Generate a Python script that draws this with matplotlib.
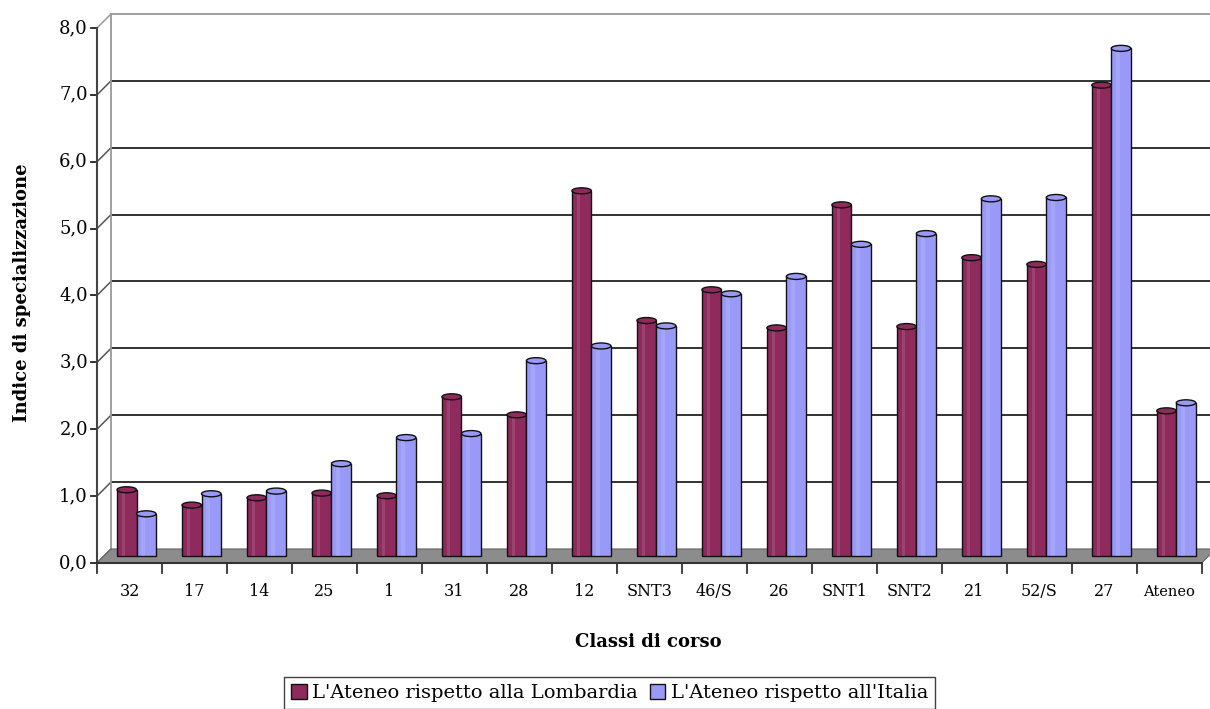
import matplotlib.pyplot as plt
from matplotlib.patches import Ellipse, Polygon

# ── data ────────────────────────────────────────────────────────────────
classi = ["32", "17", "14", "25", "1", "31", "28", "12", "SNT3", "46/S",
          "26", "SNT1", "SNT2", "21", "52/S", "27", "Ateneo"]
lombardia = [0.99, 0.76, 0.87, 0.94, 0.90, 2.38, 2.11, 5.46, 3.52, 3.98,
             3.41, 5.25, 3.43, 4.46, 4.36, 7.04, 2.17]
italia = [0.63, 0.93, 0.97, 1.38, 1.77, 1.83, 2.92, 3.14, 3.44, 3.92,
          4.18, 4.66, 4.82, 5.34, 5.36, 7.59, 2.29]
yticks = [0, 1, 2, 3, 4, 5, 6, 7, 8]

red = "#8E2A5C"
blue = "#9999F8"
n = len(classi)

# depth offset of the back wall (data units) and mid depth for the bars
dx, dy = 0.215, 0.209
mx, my = dx / 2, dy / 2
bw = 0.30

plt.rcParams["font.family"] = ["DejaVu Serif"]
fig = plt.figure(figsize=(12.1, 7.09), dpi=100)
ax = fig.add_axes([0.0802, 0.206, 0.913, 0.7546])
ax.set_xlim(0, n)
ax.set_ylim(0, 8)
ax.axis("off")

# ── back wall, gridlines, floor ─────────────────────────────────────────
for v in yticks:
    col = "#999999" if v == 8 else "#222222"
    if v > 0:
        ax.plot([dx, n + dx], [v + dy, v + dy], color=col, lw=1.3, clip_on=False, zorder=1)
    ax.plot([0, dx], [v, v + dy], color="#555555" if v < 8 else "#999999",
            lw=1.1, clip_on=False, zorder=1)
    ax.plot([-0.1, 0], [v, v], color="#222222", lw=1.3, clip_on=False)
    ax.text(-0.14, v, f"{v:.1f}".replace(".", ","), ha="right", va="center", fontsize=13)
ax.plot([dx, dx], [dy, 8 + dy], color="#999999", lw=1.3, clip_on=False, zorder=1)
ax.plot([0, 0], [0, 8], color="#444444", lw=1.5, clip_on=False, zorder=5)

floor = Polygon([[0, 0], [n, 0], [n + dx, dy], [dx, dy]], closed=True,
                facecolor="#8c8c8c", edgecolor="#666666", lw=0.8, clip_on=False, zorder=2)
ax.add_patch(floor)
ax.plot([0, n], [0, 0], color="#333333", lw=1.5, clip_on=False, zorder=5)

for i in range(n + 1):
    ax.plot([i, i], [0, -0.15], color="#333333", lw=1.3, clip_on=False)
for i, lab in enumerate(classi):
    ax.text(i + 0.5, -0.43, lab, ha="center", va="center",
            fontsize=11.5 if lab != "Ateneo" else 10.5)

# ── bars (cylinders) ────────────────────────────────────────────────────
for i in range(n):
    for k, (vals, col) in enumerate([(lombardia, red), (italia, blue)]):
        left = i + 0.5 + mx - bw + k * bw
        h = vals[i]
        ax.bar(left, h, width=bw, bottom=my, align="edge", color=col,
               edgecolor="#111111", lw=1.0, zorder=3 + k * 0.1, clip_on=False)
        ax.bar(left + bw * 0.25, h, width=bw * 0.18, bottom=my, align="edge",
               color="white", alpha=0.12, lw=0, zorder=3.05 + k * 0.1, clip_on=False)
        top = Ellipse((left + bw / 2, my + h), bw, 0.09, facecolor=col,
                      edgecolor="#111111", lw=1.0, zorder=3.06 + k * 0.1, clip_on=False)
        ax.add_patch(top)

# ── labels and legend ───────────────────────────────────────────────────
fig.text(0.0182, 0.587, "Indice di specializzazione", rotation=90,
         ha="center", va="center", fontsize=13, fontweight="bold")
fig.text(0.536, 0.094, "Classi di corso", ha="center", va="center",
         fontsize=13, fontweight="bold")

h1 = plt.Rectangle((0, 0), 1, 1, facecolor=red, edgecolor="#111111")
h2 = plt.Rectangle((0, 0), 1, 1, facecolor=blue, edgecolor="#111111")
leg = fig.legend([h1, h2], ["L'Ateneo rispetto alla Lombardia", "L'Ateneo rispetto all'Italia"],
                 loc="center", bbox_to_anchor=(0.504, 0.022), ncol=2, fontsize=14,
                 frameon=True, fancybox=False, edgecolor="#111111",
                 handlelength=0.8, handleheight=0.8, handletextpad=0.3,
                 columnspacing=0.6, borderpad=0.35)
leg.get_frame().set_linewidth(1.0)

fig.savefig("out.png", dpi=100)
